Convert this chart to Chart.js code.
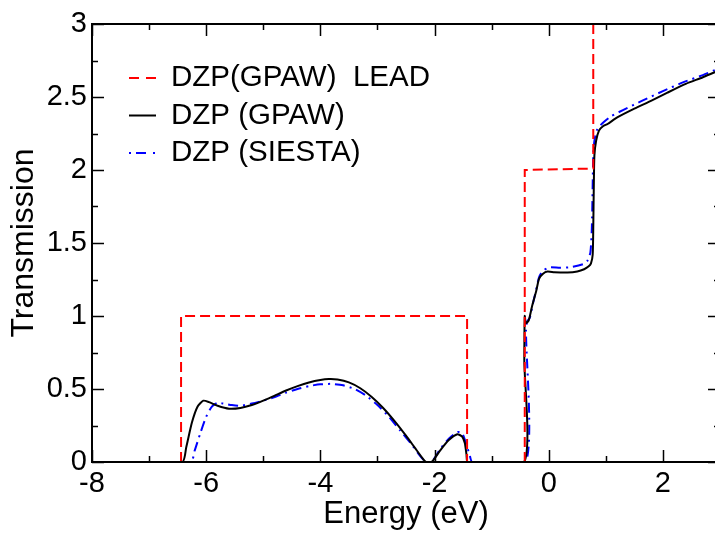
<!DOCTYPE html>
<html>
<head>
<meta charset="utf-8">
<title>Transmission</title>
<script src="https://cdn.jsdelivr.net/npm/chart.js@4"></script>
<style>
  html, body { margin: 0; padding: 0; background: #fff; overflow: hidden; }
</style>
</head>
<body>
<canvas id="c" width="722" height="533"></canvas>
<script>
// tick values
const xMajorTicks = [-8, -6, -4, -2, 0, 2];
const xMinorTicks = [-7, -5, -3, -1, 1];
const yMajorTicks = [0, 0.5, 1, 1.5, 2, 2.5, 3];
const yMinorTicks = [0.25, 0.75, 1.25, 1.75, 2.25, 2.75];

// DZP(GPAW) LEAD - step function
const leadE = [-6.44, -6.44, -1.43, -1.43, null, -0.42, -0.42, 0.78, 0.78, 3];
const leadT = [0, 1, 1, 0, null, 0, 2.0, 2.01, 4, 4];

// DZP (GPAW)
const gpawE = [-8, -6.42, -6.35, -6.25, -6.15, -6.05, -5.95, -5.8, -5.6, -5.4, -5.2, -5.0, -4.8, -4.6, -4.4, -4.2, -4.0, -3.85, -3.7, -3.5, -3.3, -3.1, -2.9, -2.7, -2.5, -2.35, -2.2, -2.15, -2.05, -1.9, -1.75, -1.6, -1.52, -1.47, -1.44, -1.42,
  -0.43, -0.428, -0.42, -0.4, -0.35, -0.29, -0.22, -0.17, -0.1, -0.02, 0.1, 0.33, 0.5, 0.62, 0.7, 0.74, 0.77, 0.78, 0.79, 0.8, 0.83, 0.88, 0.95, 1.03, 1.2, 1.5, 1.8, 2.08, 2.4, 2.7, 3];
const gpawT = [0, 0, 0.1, 0.27, 0.38, 0.42, 0.41, 0.385, 0.365, 0.37, 0.39, 0.42, 0.455, 0.49, 0.52, 0.545, 0.562, 0.568, 0.565, 0.545, 0.505, 0.445, 0.37, 0.28, 0.18, 0.1, 0.02, 0, 0, 0.08, 0.15, 0.19, 0.175, 0.13, 0.05, 0,
  0, 0.7, 1.0, 0.95, 0.97, 1.07, 1.17, 1.255, 1.29, 1.305, 1.3, 1.298, 1.305, 1.32, 1.34, 1.36, 1.42, 1.6, 1.9, 2.1, 2.2, 2.27, 2.3, 2.315, 2.36, 2.42, 2.475, 2.53, 2.59, 2.635, 2.685];

// DZP (SIESTA)
const siestaE = [-8, -6.27, -6.2, -6.1, -6.0, -5.9, -5.8, -5.7, -5.55, -5.4, -5.2, -5.0, -4.8, -4.6, -4.4, -4.2, -4.0, -3.8, -3.6, -3.4, -3.2, -3.0, -2.8, -2.6, -2.4, -2.25, -2.15, -2.05, -1.9, -1.75, -1.6, -1.52, -1.45, -1.38, -1.34,
  -0.4, -0.398, -0.38, -0.33, -0.28, -0.22, -0.17, -0.1, 0.01, 0.2, 0.4, 0.61, 0.68, 0.73, 0.755, 0.77, 0.78, 0.8, 0.84, 0.89, 0.97, 1.1, 1.3, 1.64, 2.0, 2.35, 2.7, 3];
const siestaT = [0, 0, 0.08, 0.2, 0.31, 0.38, 0.405, 0.4, 0.39, 0.385, 0.4, 0.42, 0.445, 0.475, 0.5, 0.52, 0.532, 0.535, 0.525, 0.5, 0.455, 0.39, 0.31, 0.215, 0.12, 0.04, 0, 0, 0.09, 0.16, 0.205, 0.2, 0.13, 0.04, 0,
  0, 0.9, 0.96, 0.99, 1.08, 1.18, 1.265, 1.31, 1.333, 1.33, 1.335, 1.356, 1.38, 1.435, 1.6, 1.9, 2.1, 2.2, 2.27, 2.30, 2.33, 2.37, 2.41, 2.475, 2.54, 2.60, 2.65, 2.70];

const pts = (xs, ys) => xs.map((x, i) => ({ x: x, y: ys[i] }));

const FONT = "'Liberation Sans', Arial, sans-serif";

// frame + inward ticks on all four sides, drawn over the curves
const framePlugin = {
  id: 'frame',
  afterDatasetsDraw(chart) {
    const { ctx, chartArea: a, scales } = chart;
    ctx.save();
    ctx.strokeStyle = '#000';
    ctx.lineWidth = 2;
    ctx.strokeRect(a.left, a.top, a.right - a.left, a.bottom - a.top);
    ctx.lineWidth = 1.5;
    ctx.beginPath();
    const xt = (v, len) => {
      const px = Math.round(scales.x.getPixelForValue(v)) + 0.5;
      ctx.moveTo(px, a.bottom); ctx.lineTo(px, a.bottom - len);
      ctx.moveTo(px, a.top); ctx.lineTo(px, a.top + len);
    };
    const yt = (v, len) => {
      const py = Math.round(scales.y.getPixelForValue(v)) + 0.5;
      ctx.moveTo(a.left, py); ctx.lineTo(a.left + len, py);
      ctx.moveTo(a.right, py); ctx.lineTo(a.right - len, py);
    };
    xMajorTicks.forEach(v => xt(v, 12));
    xMinorTicks.forEach(v => xt(v, 6));
    yMajorTicks.forEach(v => yt(v, 12));
    yMinorTicks.forEach(v => yt(v, 6));
    ctx.stroke();
    ctx.restore();
  }
};

// in-plot legend, built from the datasets
const legendPlugin = {
  id: 'innerLegend',
  afterDraw(chart, args, opts) {
    const { ctx } = chart;
    ctx.save();
    ctx.font = opts.fontSize + 'px ' + FONT;
    ctx.textBaseline = 'middle';
    chart.data.datasets.forEach((ds, i) => {
      const y = opts.top + i * opts.rowGap;
      ctx.strokeStyle = ds.borderColor;
      ctx.lineWidth = ds.borderWidth;
      ctx.setLineDash(ds.legendDash || ds.borderDash || []);
      ctx.beginPath();
      ctx.moveTo(opts.left, y);
      ctx.lineTo(opts.left + opts.lineLen, y);
      ctx.stroke();
      ctx.setLineDash([]);
      ctx.fillStyle = '#000';
      ctx.fillText(ds.label, opts.left + opts.lineLen + opts.gap, y);
    });
    ctx.restore();
  }
};

new Chart(document.getElementById('c'), {
  type: 'scatter',
  data: {
    datasets: [
      { label: 'DZP(GPAW)  LEAD', data: pts(leadE, leadT), showLine: true, spanGaps: false,
        borderColor: '#ff0000', borderWidth: 2, borderDash: [10, 5], legendDash: [10, 7],
        pointRadius: 0, tension: 0 },
      { label: 'DZP (GPAW)', data: pts(gpawE, gpawT), showLine: true,
        borderColor: '#000000', borderWidth: 2, pointRadius: 0, tension: 0.2 },
      { label: 'DZP (SIESTA)', data: pts(siestaE, siestaT), showLine: true,
        borderColor: '#0000ff', borderWidth: 2, borderDash: [10, 5, 2, 5], legendDash: [2, 5, 10, 7, 2, 5],
        pointRadius: 0, tension: 0.2 }
    ]
  },
  options: {
    responsive: false,
    animation: false,
    layout: { padding: { top: 24, right: 2, left: 0, bottom: 0 } },
    plugins: {
      legend: { display: false },
      tooltip: { enabled: false },
      innerLegend: { left: 129, top: 78, rowGap: 37.5, lineLen: 27, gap: 15, fontSize: 29.5 }
    },
    scales: {
      x: {
        type: 'linear', min: -8, max: 3,
        afterBuildTicks: s => { s.ticks = xMajorTicks.map(v => ({ value: v })); },
        afterFit: s => { s.height = 71; },
        grid: { display: false, drawTicks: false },
        border: { display: false },
        ticks: { color: '#000', padding: 5, font: { family: FONT, size: 29 }, callback: v => String(v) },
        title: { display: true, text: 'Energy (eV)', color: '#000', padding: { top: 0, bottom: 0 },
          font: { family: FONT, size: 31 } }
      },
      y: {
        type: 'linear', min: 0, max: 3,
        afterBuildTicks: s => { s.ticks = yMajorTicks.map(v => ({ value: v })); },
        afterFit: s => { s.width = 92; },
        grid: { display: false, drawTicks: false },
        border: { display: false },
        ticks: { color: '#000', padding: 5, font: { family: FONT, size: 29 }, callback: v => String(v) },
        title: { display: true, text: 'Transmission', color: '#000', padding: { top: 5, bottom: 0 },
          font: { family: FONT, size: 32 } }
      }
    }
  },
  plugins: [framePlugin, legendPlugin]
});
</script>
</body>
</html>
